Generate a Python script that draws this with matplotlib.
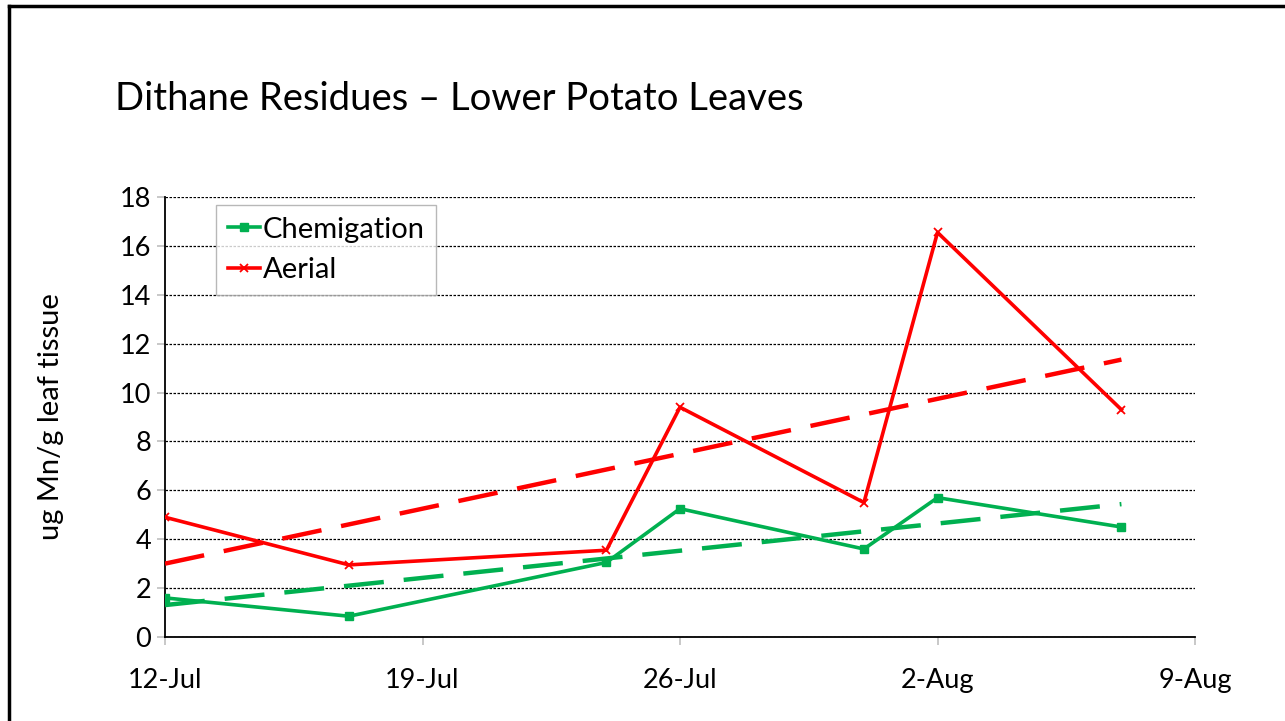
import numpy as np
import pandas as pd
import matplotlib
matplotlib.use('Agg')
import matplotlib.pyplot as plt
from matplotlib.lines import Line2D

plt.rcParams['font.family'] = ['Lato', 'DejaVu Sans']

# dados
datas = pd.to_datetime(['2010-07-12', '2010-07-17', '2010-07-24', '2010-07-26',
                        '2010-07-31', '2010-08-02', '2010-08-07'])
chemigation = [1.6, 0.85, 3.05, 5.25, 3.6, 5.7, 4.5]
aerial = [4.9, 2.95, 3.55, 9.4, 5.5, 16.55, 9.3]
tick_datas = pd.to_datetime(['2010-07-12', '2010-07-19', '2010-07-26', '2010-08-02', '2010-08-09'])
tick_labels = ['12-Jul', '19-Jul', '26-Jul', '2-Aug', '9-Aug']

verde = '#00B050'
vermelho = '#FF0000'

fig = plt.figure(figsize=(12.85, 7.21), dpi=100)
ax = fig.add_axes([165 / 1285, 1 - 637 / 721, (1195 - 165) / 1285, (637 - 197) / 721])

# linhas de tendencia (regressao linear, como no Excel)
dias = np.array([(d - datas[0]).days for d in datas])
for serie, cor in [(chemigation, verde), (aerial, vermelho)]:
    a, b = np.polyfit(dias, serie, 1)
    ax.plot(datas, a * dias + b, color=cor, lw=3.2, ls=(0, (9, 4.5)), zorder=3)

ax.plot(datas, chemigation, color=verde, lw=2.6, marker='s', ms=5.5, label='Chemigation', zorder=4)
ax.plot(datas, aerial, color=vermelho, lw=2.6, marker='x', ms=6, mew=1.3, label='Aerial', zorder=4)

ax.set_xlim(tick_datas[0], tick_datas[-1])
ax.set_ylim(0, 18)
ax.set_yticks(range(0, 19, 2))
ax.set_xticks(tick_datas)
ax.set_xticklabels(tick_labels)
ax.tick_params(axis='both', labelsize=19.5, color='#BFBFBF', length=6, width=1.2)
ax.tick_params(axis='x', pad=16)
ax.tick_params(axis='y', pad=4)

ax.grid(axis='y', color='black', ls=(0, (2, 1.2)), lw=0.9)
ax.set_axisbelow(True)
for lado in ['top', 'right']:
    ax.spines[lado].set_visible(False)
for lado in ['left', 'bottom']:
    ax.spines[lado].set_color('black')
    ax.spines[lado].set_linewidth(1.3)

ax.set_ylabel('ug Mn/g leaf tissue', fontsize=21, labelpad=40)

leg = ax.legend(loc='upper left', bbox_to_anchor=(0.0495, 0.982), fontsize=21, frameon=True,
                fancybox=False, edgecolor='#A6A6A6', handlelength=1.1, handletextpad=0.1,
                borderpad=0.4, labelspacing=0.5, borderaxespad=0)
leg.get_frame().set_linewidth(1.0)

fig.text(115 / 1285, 1 - 99 / 721, 'Dithane Residues \u2013 Lower Potato Leaves',
         fontsize=27.5, va='center', ha='left')

# borda do slide
fig.add_artist(Line2D([9 / 1285, 9 / 1285], [0, 1 - 6 / 721], transform=fig.transFigure,
                      color='black', lw=2.5))
fig.add_artist(Line2D([9 / 1285, 1], [1 - 6 / 721, 1 - 6 / 721], transform=fig.transFigure,
                      color='black', lw=2.5))

fig.savefig('out.png', dpi=100)
